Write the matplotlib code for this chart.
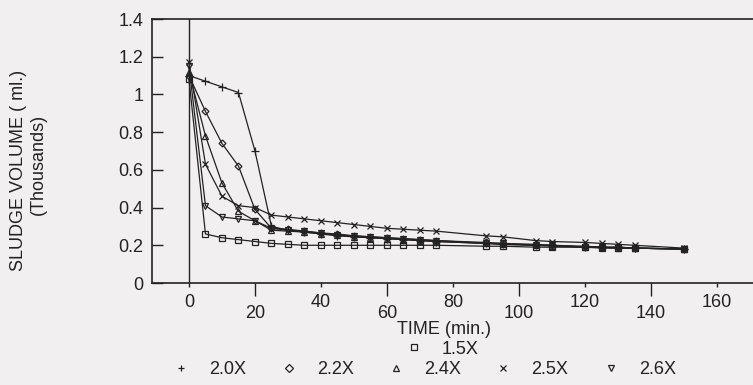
import matplotlib.pyplot as plt
from matplotlib.lines import Line2D

# sampling times (min.)
time = [0, 5, 10, 15, 20, 25, 30, 35, 40, 45, 50, 55, 60, 65, 70, 75,
        90, 95, 105, 110, 120, 125, 130, 135, 150]

# sludge volume (thousands of ml.) for each dose
vol_15 = [1.08, 0.26, 0.24, 0.23, 0.22, 0.21, 0.205, 0.20, 0.20, 0.20, 0.20, 0.20,
          0.20, 0.20, 0.20, 0.20, 0.195, 0.195, 0.19, 0.19, 0.19, 0.185, 0.185, 0.185, 0.18]
vol_20 = [1.10, 1.07, 1.04, 1.01, 0.70, 0.30, 0.28, 0.27, 0.26, 0.25, 0.245, 0.24,
          0.235, 0.23, 0.225, 0.22, 0.21, 0.205, 0.20, 0.20, 0.19, 0.19, 0.19, 0.185, 0.18]
vol_22 = [1.10, 0.91, 0.74, 0.62, 0.39, 0.29, 0.285, 0.275, 0.265, 0.26, 0.25, 0.245,
          0.24, 0.235, 0.23, 0.225, 0.215, 0.21, 0.205, 0.20, 0.195, 0.19, 0.19, 0.185, 0.18]
vol_24 = [1.12, 0.78, 0.53, 0.38, 0.33, 0.28, 0.275, 0.27, 0.26, 0.255, 0.245, 0.24,
          0.235, 0.23, 0.225, 0.22, 0.21, 0.205, 0.20, 0.195, 0.19, 0.19, 0.185, 0.185, 0.18]
vol_25 = [1.17, 0.63, 0.46, 0.41, 0.40, 0.36, 0.35, 0.34, 0.33, 0.32, 0.31, 0.30,
          0.29, 0.285, 0.28, 0.275, 0.25, 0.245, 0.225, 0.22, 0.215, 0.21, 0.205, 0.20, 0.185]
vol_26 = [1.15, 0.41, 0.35, 0.34, 0.33, 0.29, 0.28, 0.275, 0.265, 0.255, 0.25, 0.245,
          0.24, 0.235, 0.23, 0.225, 0.21, 0.21, 0.20, 0.20, 0.19, 0.19, 0.185, 0.185, 0.18]

labels = ["1.5X", "2.0X", "2.2X", "2.4X", "2.5X", "2.6X"]
markers = ["s", "+", "D", "^", "x", "v"]
sizes = [4.5, 6, 3.5, 4.5, 5, 4.5]

plt.rcParams["font.family"] = ["Liberation Sans", "DejaVu Sans"]
plt.rcParams["font.size"] = 13

INK = "#222222"
BG = "#f1eff0"


def main():
    fig = plt.figure(figsize=(7.53, 3.85), dpi=100, facecolor=BG)
    ax = fig.add_axes([152 / 753, 102 / 385, 601 / 753, 264 / 385], facecolor=BG)

    series = [vol_15, vol_20, vol_22, vol_24, vol_25, vol_26]
    for vals, mk, ms in zip(series, markers, sizes):
        ax.plot(time, vals, color=INK, lw=0.9, marker=mk, ms=ms,
                mfc="none", mec=INK, mew=0.9)

    ax.axvline(0, color=INK, lw=1.0)

    ax.set_xlim(-11.2, 170.9)
    ax.set_ylim(0, 1.4)
    ax.set_yticks([0, 0.2, 0.4, 0.6, 0.8, 1.0, 1.2, 1.4])
    ax.set_yticklabels(["0", "0.2", "0.4", "0.6", "0.8", "1", "1.2", "1.4"])
    ax.tick_params(axis="y", direction="in", length=8, width=1, pad=6, colors=INK)

    # staggered x labels: 0, 40, ... high and 20, 60, ... low
    ax.set_xticks([0, 40, 80, 120, 160])
    ax.set_xticklabels(["0", "40", "80", "120", "160"])
    ax.set_xticks([20, 60, 100, 140], minor=True)
    ax.set_xticklabels(["20", "60", "100", "140"], minor=True)
    ax.tick_params(axis="x", which="major", direction="out", length=3, width=1,
                   pad=5, colors=INK)
    ax.tick_params(axis="x", which="minor", direction="out", length=9, width=1,
                   pad=7, labelsize=13, colors=INK)

    for side in ["top", "bottom", "left"]:
        ax.spines[side].set_linewidth(1.2)
        ax.spines[side].set_color(INK)
    ax.spines["right"].set_visible(False)

    ax.set_xlabel("TIME (min.)", color=INK, va="center")
    ax.xaxis.set_label_coords((444 - 152) / 601, (283 - 330) / 264)

    fig.text(19 / 753, 1 - 170 / 385, "SLUDGE VOLUME ( ml.)", rotation=90,
             ha="center", va="center", color=INK)
    fig.text(38 / 753, 1 - 164 / 385, "(Thousands)", rotation=90,
             ha="center", va="center", color=INK)

    handles = [Line2D([], [], ls="none", marker=mk, ms=4, mfc="none", mec=INK, mew=0.9)
               for mk in markers]
    leg_kw = dict(frameon=False, handlelength=1.0, handletextpad=1.05,
                  borderpad=0, labelcolor=INK)
    fig.legend(handles[:1], labels[:1], loc="center",
               bbox_to_anchor=(442 / 753, 1 - 349 / 385), **leg_kw)
    fig.legend(handles[1:], labels[1:], loc="center", ncol=5, columnspacing=1.85,
               bbox_to_anchor=(424 / 753, 1 - 370 / 385), **leg_kw)

    fig.savefig("out.png", dpi=100, facecolor=BG)


if __name__ == "__main__":
    main()
